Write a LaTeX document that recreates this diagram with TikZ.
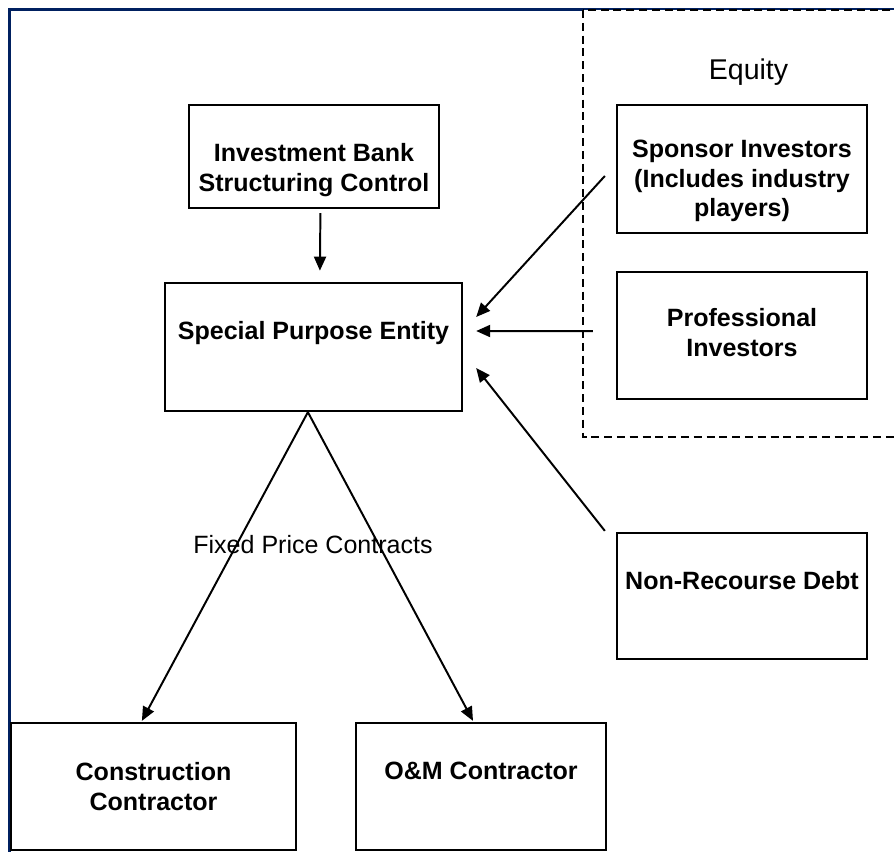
\documentclass[tikz,border=0pt]{standalone}
\usepackage{fontspec}
\setmainfont{Liberation Sans}
\usepackage{tikz}
\usetikzlibrary{positioning,arrows.meta}
\definecolor{framenavy}{rgb}{0.00,0.125,0.376}

\begin{document}
\begin{tikzpicture}[x=0.025cm, y=-0.025cm,
        box/.style  = {draw, rectangle, line width=1.6pt, minimum width=6.25cm},
        boxtext/.style = {align=center, font=\fontsize{17.8pt}{21pt}\selectfont\bfseries},
]
\tikzstyle{connect}=[-{Triangle[length=0.35cm,width=0.3cm]}, line width=1.4pt]
\tikzstyle{plain}=[font=\fontsize{17.8pt}{21pt}\selectfont]

	\useasboundingbox (0,0) rectangle (894,851);
	\clip (0,0) rectangle (894,851);

	% outer frame and the equity group
	\draw[framenavy, line width=2.1pt] (9.5,860) -- (9.5,9.5) -- (900,9.5);
	\draw[dashed, dash pattern=on 0.2cm off 0.12cm, line width=1.3pt, fill=white] (583,10) rectangle (905,437);
	\node[font=\fontsize{20.3pt}{24pt}\selectfont] (equity) at (748.5,72) {Equity};

	% left column
	\node[box, minimum height=2.575cm, label={[boxtext, yshift=-0.34cm]center:{Investment Bank\\Structuring Control}}] (invest) at (314,156.5) {};
	\node[box, minimum width=7.425cm, minimum height=3.2cm, label={[boxtext, yshift=0.35cm]center:{Special Purpose Entity}}] (spe) at (313.5,347) {};

	% right column
	\node[box, minimum height=3.2cm, label={[boxtext, yshift=-0.3cm]center:{Sponsor Investors\\(Includes industry\\players)}}] (sponsor) at (742,169) {};
	\node[box, minimum height=3.175cm, label={[boxtext, yshift=0.075cm]center:{Professional\\Investors}}] (prof) at (742,335.5) {};
	\node[box, minimum height=3.15cm, label={[boxtext, yshift=0.39cm]center:{Non-Recourse Debt}}] (nonrec) at (742,596) {};

	% contractors
	\node[box, minimum width=7.125cm, minimum height=3.175cm, label={[boxtext]center:{Construction\\Contractor}}] (constr) at (153.5,786.5) {};
	\node[box, minimum height=3.175cm, label={[boxtext, yshift=0.4cm]center:{O\&M Contractor}}] (om) at (481,786.5) {};

	\node[plain] (fixed) at (313,545) {Fixed Price Contracts};

	\path
		([shift={(0.16cm,-0.1cm)}]invest.south) edge [connect] ([shift={(0.16cm,0.28cm)}]spe.north)
		([shift={(-0.275cm,-0.175cm)}]sponsor.west) edge [connect] ([shift={(0.325cm,0.75cm)}]spe.east)
		([shift={(-0.575cm,0.11cm)}]prof.west) edge [connect] ([shift={(0.325cm,0.4cm)}]spe.east)
		([shift={(-0.275cm,0.025cm)}]nonrec.north west) edge [connect] ([shift={(0.325cm,-0.525cm)}]spe.east)
		([xshift=-0.14cm]spe.south) edge [connect] ([shift={(-0.29cm,0.025cm)}]constr.north)
		([xshift=-0.14cm]spe.south) edge [connect] ([shift={(-0.2cm,0.025cm)}]om.north);

\end{tikzpicture}
\end{document}
